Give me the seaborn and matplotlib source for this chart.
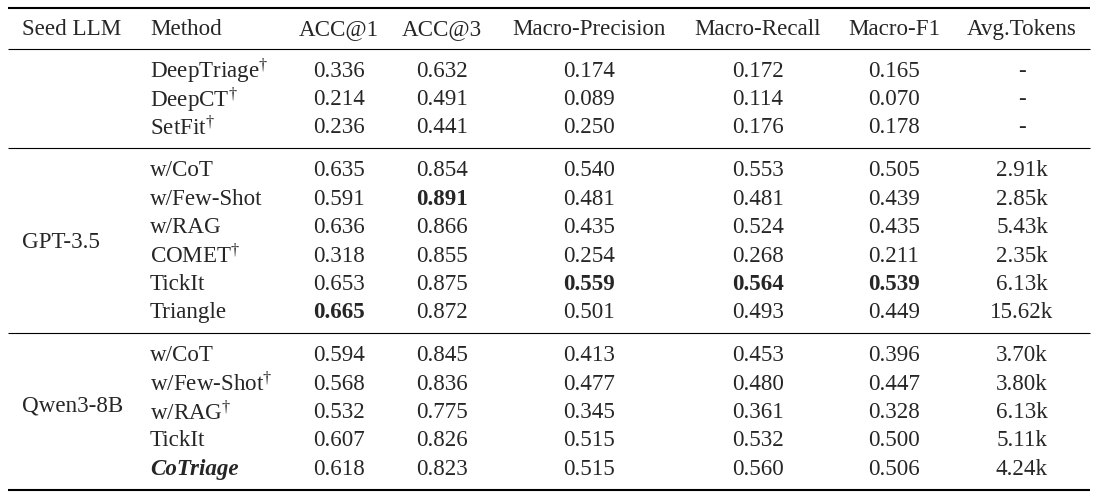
import matplotlib
matplotlib.use("Agg")
import matplotlib.pyplot as plt
import seaborn as sns

sns.set_theme(style="white")
plt.rcParams['font.family'] = ['Liberation Serif', 'DejaVu Serif']
plt.rcParams['mathtext.fontset'] = 'custom'
plt.rcParams['mathtext.rm'] = 'Liberation Serif'
plt.rcParams['mathtext.it'] = 'Liberation Serif:italic'
plt.rcParams['mathtext.bf'] = 'Liberation Serif:bold'

# ---------------- data ----------------
headers = ["Seed LLM", "Method", "ACC@1", "ACC@3", "Macro-Precision",
           "Macro-Recall", "Macro-F1", "Avg.Tokens"]
seed_llms = ["", "GPT-3.5", "Qwen3-8B"]
methods = [["DeepTriage", "DeepCT", "SetFit"],
           ["w/CoT", "w/Few-Shot", "w/RAG", "COMET", "TickIt", "Triangle"],
           ["w/CoT", "w/Few-Shot", "w/RAG", "TickIt", "CoTriage"]]
dagger = [[1, 1, 1],
          [0, 0, 0, 1, 0, 0],
          [0, 1, 1, 0, 0]]
acc1 = [[0.336, 0.214, 0.236],
        [0.635, 0.591, 0.636, 0.318, 0.653, 0.665],
        [0.594, 0.568, 0.532, 0.607, 0.618]]
acc3 = [[0.632, 0.491, 0.441],
        [0.854, 0.891, 0.866, 0.855, 0.875, 0.872],
        [0.845, 0.836, 0.775, 0.826, 0.823]]
macro_p = [[0.174, 0.089, 0.250],
           [0.540, 0.481, 0.435, 0.254, 0.559, 0.501],
           [0.413, 0.477, 0.345, 0.515, 0.515]]
macro_r = [[0.172, 0.114, 0.176],
           [0.553, 0.481, 0.524, 0.268, 0.564, 0.493],
           [0.453, 0.480, 0.361, 0.532, 0.560]]
macro_f1 = [[0.165, 0.070, 0.178],
            [0.505, 0.439, 0.435, 0.211, 0.539, 0.449],
            [0.396, 0.447, 0.328, 0.500, 0.506]]
avg_tokens_k = [[None, None, None],
                [2.91, 2.85, 5.43, 2.35, 6.13, 15.62],
                [3.70, 3.80, 6.13, 5.11, 4.24]]
highlight_method = "CoTriage"

metric_cols = [acc1, acc3, macro_p, macro_r, macro_f1]

# ---------------- layout ----------------
W, H = 1114, 499
fig = plt.figure(figsize=(W / 100, H / 100), dpi=100)
ax = fig.add_axes([0, 0, 1, 1])
ax.set_xlim(0, W)
ax.set_ylim(H, 0)
ax.axis('off')

FS = 16.6
seed_x = 22
method_x = 150
val_x = [339, 442, 589, 758, 894, 1022]
line_x0, line_x1 = 8, 1090
pitch = 28.4
gap_above = 28.0   # rule -> first baseline
gap_below = 15.0   # last baseline -> rule
seed_nudge = [0, 1, -7]
math_dy = 1.8      # baseline compensation for labels with superscript

top_rule = 8
header_base = 35
header_rule = 48.5

ax.hlines(top_rule, line_x0, line_x1, color='black', lw=1.5)
ax.hlines(header_rule, line_x0, line_x1, color='black', lw=0.8)

ax.text(seed_x, header_base, headers[0], fontsize=FS, ha='left', va='baseline')
ax.text(method_x, header_base, headers[1], fontsize=FS, ha='left', va='baseline')
for x, h in zip(val_x, headers[2:]):
    ax.text(x, header_base, h, fontsize=FS, ha='center', va='baseline')

col_max = [max(v for g in col for v in g) for col in metric_cols]

y_rule = header_rule
for gi, seed in enumerate(seed_llms):
    n = len(methods[gi])
    bases = [y_rule + gap_above + i * pitch for i in range(n)]
    if seed:
        ymid = (bases[0] + bases[-1]) / 2 + seed_nudge[gi]
        ax.text(seed_x, ymid, seed, fontsize=FS, ha='left', va='baseline')
    for i, m in enumerate(methods[gi]):
        y = bases[i]
        if dagger[gi][i]:
            label = m + r"$^{\dagger}$"
            ym = y + math_dy
        else:
            label = m
            ym = y
        if m == highlight_method:
            ax.text(method_x, ym, label, fontsize=FS, ha='left', va='baseline',
                    fontweight='bold', fontstyle='italic')
        else:
            ax.text(method_x, ym, label, fontsize=FS, ha='left', va='baseline')
        for ci, col in enumerate(metric_cols):
            v = col[gi][i]
            bold = abs(v - col_max[ci]) < 1e-9
            ax.text(val_x[ci], y, f"{v:.3f}", fontsize=FS, ha='center',
                    va='baseline', fontweight='bold' if bold else 'normal')
        tk = avg_tokens_k[gi][i]
        ax.text(val_x[5], y, "-" if tk is None else f"{tk:.2f}k", fontsize=FS,
                ha='center', va='baseline')
    y_rule = bases[-1] + gap_below
    last = gi == len(seed_llms) - 1
    ax.hlines(y_rule, line_x0, line_x1, color='black',
              lw=1.5 if last else 0.8)

fig.savefig("out.png", dpi=100)
